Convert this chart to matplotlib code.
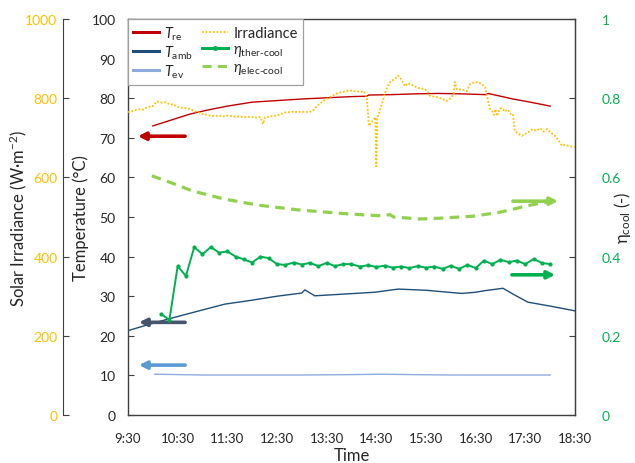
import matplotlib
matplotlib.use("Agg")
import matplotlib.pyplot as plt
from matplotlib.lines import Line2D

plt.rcParams['font.family'] = ['Lato', 'DejaVu Sans']
plt.rcParams['mathtext.fontset'] = 'custom'
plt.rcParams['mathtext.rm'] = 'Lato'
plt.rcParams['mathtext.it'] = 'Lato:italic'

# ---------------- data ----------------
x_ticks = [9.5, 10.5, 11.5, 12.5, 13.5, 14.5, 15.5, 16.5, 17.5, 18.5]
x_tick_labels = ['9:30', '10:30', '11:30', '12:30', '13:30', '14:30', '15:30', '16:30', '17:30', '18:30']

tre_t = [10.0, 10.4, 10.75, 11.1, 11.5, 12.0, 12.5, 13.0, 13.5, 14.0, 14.3, 14.35, 14.8, 15.3, 15.75,
         16.2, 16.7, 16.75, 17.0, 17.25, 17.6, 18.0]
tre_v = [73.0, 74.6, 76.0, 77.0, 78.0, 79.0, 79.4, 79.8, 80.1, 80.4, 80.5, 80.8, 80.9, 81.1, 81.2,
         81.1, 80.9, 81.2, 80.5, 79.8, 79.0, 78.0]

tamb_t = [9.5, 9.9, 10.3, 10.9, 11.45, 12.0, 12.5, 13.0, 13.06, 13.26, 13.8, 14.47, 14.94, 15.5,
          16.22, 16.5, 16.69, 17.05, 17.3, 17.55, 18.0, 18.5]
tamb_v = [21.3, 22.8, 24.2, 26.2, 28.0, 29.0, 30.0, 30.8, 31.6, 30.1, 30.5, 31.0, 31.8, 31.5,
          30.7, 31.0, 31.4, 32.0, 30.2, 28.5, 27.5, 26.3]

tev_t = [10.04, 11.0, 12.0, 13.0, 14.0, 14.6, 15.2, 16.0, 17.0, 18.0]
tev_v = [10.3, 10.1, 10.1, 10.1, 10.2, 10.3, 10.2, 10.1, 10.1, 10.1]

irr_t = [9.50, 9.60, 9.70, 9.80, 9.90, 10.00, 10.08, 10.17, 10.25, 10.33, 10.42, 10.50, 10.58, 10.67,
         10.75, 10.83, 10.92, 11.00, 11.08, 11.17, 11.25, 11.33, 11.42, 11.50, 11.58, 11.67, 11.75,
         11.83, 11.92, 12.00, 12.08, 12.17, 12.22, 12.26, 12.33, 12.42, 12.50, 12.58, 12.67, 12.75,
         12.83, 12.92, 13.00, 13.08, 13.17, 13.22, 13.30, 13.40, 13.50, 13.57, 13.67, 13.75, 13.83,
         13.92, 14.00, 14.08, 14.17, 14.25, 14.28, 14.31, 14.35, 14.42, 14.48, 14.50, 14.52, 14.58,
         14.67, 14.72, 14.77, 14.83, 14.90, 14.94, 15.00, 15.08, 15.13, 15.18, 15.25, 15.33, 15.42,
         15.48, 15.54, 15.58, 15.67, 15.75, 15.83, 15.92, 16.00, 16.06, 16.08, 16.12, 16.20, 16.28,
         16.32, 16.39, 16.47, 16.55, 16.62, 16.69, 16.75, 16.79, 16.83, 16.87, 16.90, 16.93, 16.97,
         17.00, 17.05, 17.09, 17.13, 17.17, 17.21, 17.25, 17.29, 17.36, 17.43, 17.50, 17.58, 17.65,
         17.72, 17.80, 17.87, 17.94, 18.02, 18.10, 18.17, 18.24, 18.30, 18.36, 18.43, 18.50]
irr_v = [765, 768, 772, 771, 778, 780, 792, 789, 790, 785, 784, 778, 776, 775,
         773, 768, 764, 760, 758, 756, 755, 756, 754, 756, 755, 753, 754,
         752, 753, 752, 751, 752, 735, 752, 753, 755, 756, 760, 764, 765,
         766, 765, 766, 765, 766, 768, 780, 790, 798, 803, 810, 814, 816,
         818, 819, 818, 816, 818, 810, 798, 730, 742, 752, 628, 750, 772,
         810, 828, 840, 845, 852, 857, 848, 830, 838, 835, 832, 826, 824,
         823, 815, 806, 804, 802, 798, 793, 800, 812, 841, 823, 822, 820,
         818, 836, 840, 841, 836, 828, 793, 773, 768, 758, 772, 755, 768,
         775, 770, 773, 765, 768, 760, 760, 717, 710, 705, 710, 716, 722,
         718, 724, 716, 722, 712, 705, 693, 680, 682, 680, 678, 677]

ther_t = [10 + 10 / 60 + i / 6 for i in range(48)]
ther_v = [0.255, 0.240, 0.376, 0.351, 0.424, 0.406, 0.424, 0.410, 0.413, 0.400, 0.393, 0.385,
          0.400, 0.396, 0.381, 0.379, 0.385, 0.380, 0.384, 0.376, 0.384, 0.376, 0.381, 0.381,
          0.375, 0.378, 0.374, 0.377, 0.372, 0.375, 0.371, 0.376, 0.372, 0.375, 0.369, 0.377,
          0.369, 0.379, 0.371, 0.390, 0.381, 0.392, 0.386, 0.390, 0.381, 0.394, 0.384, 0.381]

elec_t = [9.98, 10.4, 10.79, 11.45, 12.12, 12.92, 13.81, 14.30, 14.60, 14.77, 14.85, 15.38,
          15.78, 16.45, 16.99, 17.53, 17.80, 18.06]
elec_v = [0.604, 0.585, 0.566, 0.545, 0.530, 0.518, 0.509, 0.505, 0.503, 0.506, 0.500, 0.495,
          0.497, 0.502, 0.512, 0.528, 0.535, 0.540]

# arrows: (start_time, end_time, level)
arrow_tre = (10.65, 9.70, 70.4)
arrow_tamb = (10.65, 9.72, 23.4)
arrow_tev = (10.65, 9.72, 12.6)
arrow_elec = (17.25, 18.16, 0.540)
arrow_ther = (17.23, 18.10, 0.354)

C_RE = '#C00000'
C_AMB = '#1F4E79'
C_EV = '#8FAADC'
C_IRR = '#FFC000'
C_THER = '#00B050'
C_ELEC = '#92D050'
TXT = '#262626'

# ---------------- figure ----------------
fig = plt.figure(figsize=(6.35, 4.64), dpi=100)
ax = fig.add_axes([128 / 635, 1 - 416 / 464, 447 / 635, 396 / 464])
ax_irr = ax.twinx()
ax_eta = ax.twinx()

for s in ax.spines.values():
    s.set_color('#404040')
    s.set_linewidth(1.0)

# temperature lines
ax.plot(tre_t, tre_v, color=C_RE, lw=1.0, zorder=3)
ax.plot(tamb_t, tamb_v, color=C_AMB, lw=1.0, zorder=3)
ax.plot(tev_t, tev_v, color=C_EV, lw=1.0, zorder=3)
ax.set_xlim(9.5, 18.5)
ax.set_ylim(0, 100)
ax.set_yticks(range(0, 101, 10))
ax.set_xticks(x_ticks)
ax.set_xticklabels(x_tick_labels)
ax.tick_params(axis='x', length=0, pad=12, labelsize=9.5, labelcolor=TXT)
ax.tick_params(axis='y', direction='in', length=4, pad=9, labelsize=10, labelcolor=TXT, color='#404040')
ax.set_xlabel('Time', fontsize=12, color=TXT)
ax.xaxis.set_label_coords(0.5, -0.081)
ax.set_ylabel('Temperature (°C)', fontsize=12, color=TXT)
ax.yaxis.set_label_coords(-39 / 447, 0.5)

for (a, b, lvl), col in [(arrow_tre, C_RE), (arrow_tamb, '#44546A'), (arrow_tev, '#5B9BD5')]:
    ax.annotate('', xy=(b, lvl), xytext=(a, lvl),
                arrowprops=dict(arrowstyle='-|>', color=col, lw=2.6, mutation_scale=11,
                                shrinkA=0, shrinkB=0))

# irradiance axis
ax_irr.plot(irr_t, irr_v, color=C_IRR, lw=1.3, ls=(0, (1, 1)), zorder=2)
ax_irr.set_ylim(0, 1000)
ax_irr.set_yticks(range(0, 1001, 200))
for k in ['right', 'top', 'bottom']:
    ax_irr.spines[k].set_visible(False)
ax_irr.spines['left'].set_visible(True)
ax_irr.spines['left'].set_position(('axes', -65 / 447))
ax_irr.spines['left'].set_color('#404040')
ax_irr.yaxis.set_label_position('left')
ax_irr.yaxis.set_ticks_position('left')
ax_irr.tick_params(axis='y', direction='in', length=4, pad=4, labelsize=10,
                   labelcolor=C_IRR, color='#404040')
ax_irr.set_ylabel('Solar Irradiance (W·m$^{-2}$)', fontsize=12, color=TXT)
ax_irr.yaxis.set_label_coords(-99 / 447, 0.5)

# efficiency axis
ax_eta.plot(ther_t, ther_v, color=C_THER, lw=1.4, marker='o', ms=2.0, zorder=4)
ax_eta.plot(elec_t, elec_v, color=C_ELEC, lw=2.3, ls=(0, (3.0, 2.0)), zorder=4)
ax_eta.set_ylim(0, 1)
ax_eta.set_yticks([0, 0.2, 0.4, 0.6, 0.8, 1.0])
ax_eta.set_yticklabels(['0', '0.2', '0.4', '0.6', '0.8', '1'])
for k in ['left', 'top', 'bottom']:
    ax_eta.spines[k].set_visible(False)
ax_eta.spines['right'].set_color('#404040')
ax_eta.tick_params(axis='y', direction='in', length=4, pad=19, labelsize=10,
                   labelcolor=C_THER, color='#404040')
ax_eta.set_ylabel('η$_{\\mathrm{cool}}$ (-)', fontsize=12, color=TXT)
ax_eta.yaxis.set_label_coords(484 / 447, 0.5)

for (a, b, lvl), col in [(arrow_elec, C_ELEC), (arrow_ther, C_THER)]:
    ax_eta.annotate('', xy=(b, lvl), xytext=(a, lvl),
                    arrowprops=dict(arrowstyle='-|>', color=col, lw=2.6, mutation_scale=11,
                                    shrinkA=0, shrinkB=0))

handles = [
    Line2D([], [], color=C_RE, lw=2.2),
    Line2D([], [], color=C_AMB, lw=2.2),
    Line2D([], [], color=C_EV, lw=2.2),
    Line2D([], [], color=C_IRR, lw=1.3, ls=(0, (1, 1))),
    Line2D([], [], color=C_THER, lw=2.2, marker='o', ms=2.5, markevery=[1]),
    Line2D([], [], color=C_ELEC, lw=2.2, ls=(0, (3.0, 2.0))),
]
labels = [r'$T_{\mathrm{re}}$', r'$T_{\mathrm{amb}}$', r'$T_{\mathrm{ev}}$', 'Irradiance',
          '$\\eta_{\\mathrm{ther\u2010cool}}$', '$\\eta_{\\mathrm{elec\u2010cool}}$']
leg = ax_eta.legend(handles, labels, ncol=2, loc='upper left', bbox_to_anchor=(0, 1),
                    bbox_transform=ax.transAxes, borderaxespad=0, fontsize=10.5,
                    frameon=True, fancybox=False, edgecolor='#A0A0A0', framealpha=1,
                    handlelength=1.8, handletextpad=0.35, columnspacing=0.6,
                    labelspacing=0.12, borderpad=0.35)
leg.get_frame().set_linewidth(0.9)
for t in leg.get_texts():
    t.set_color(TXT)

fig.savefig('out.png', dpi=100)
